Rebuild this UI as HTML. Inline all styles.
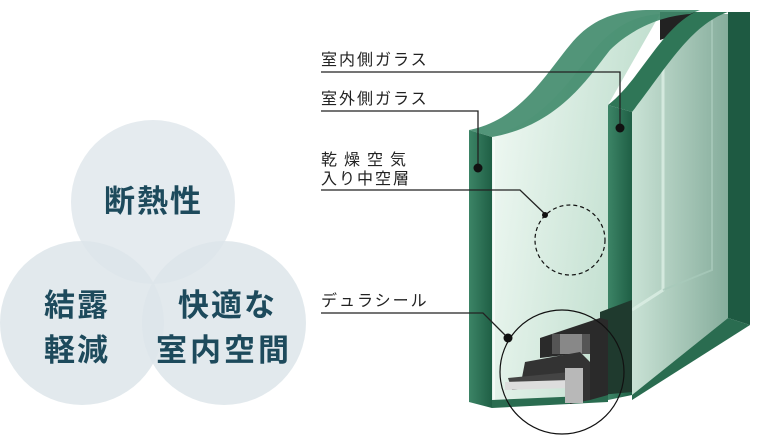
<!DOCTYPE html>
<html><head><meta charset="utf-8"><style>
html,body{margin:0;padding:0;background:#fff;width:760px;height:440px;overflow:hidden}
svg{display:block}
.lb{font-family:"Liberation Sans","Noto Sans CJK JP",sans-serif;font-size:16px;fill:#222;letter-spacing:2px}
.ct{font-family:"Liberation Sans","Noto Sans CJK JP",sans-serif;font-size:31px;font-weight:bold;fill:#1d4a5c;letter-spacing:2px}
</style></head><body>
<svg width="760" height="440" viewBox="0 0 760 440" xmlns="http://www.w3.org/2000/svg">
<defs>
<linearGradient id="face" x1="0" y1="0" x2="1" y2="0.3">
<stop offset="0" stop-color="#f2faf5"/><stop offset="1" stop-color="#bcdccb"/></linearGradient>
<linearGradient id="back" x1="0" y1="0" x2="1" y2="0">
<stop offset="0" stop-color="#c9e2d5"/><stop offset="1" stop-color="#86ad9c"/></linearGradient>
<linearGradient id="edge" x1="0" y1="0" x2="1" y2="0">
<stop offset="0" stop-color="#3c8466"/><stop offset="1" stop-color="#1f5f45"/></linearGradient>
</defs>
<g>
<circle cx="153" cy="202" r="82" fill="#e5ebef"/>
<circle cx="82" cy="323" r="82" fill="#dde5ea" fill-opacity="0.85"/>
<circle cx="224" cy="323" r="82" fill="#dde5ea" fill-opacity="0.85"/>
</g>
<text class="ct" x="104" y="212">断熱性</text>
<text class="ct" x="44" y="316">結露</text>
<text class="ct" x="44" y="361">軽減</text>
<text class="ct" x="178" y="316">快適な</text>
<text class="ct" x="156" y="361" style="letter-spacing:3px">室内空間</text>

<polygon points="728,12 750,12 750,325 728,318" fill="#1e5a42"/>
<path d="M632,112 C660,70 680,20 720,14 L728,14 L728,318 L632,395 Z" fill="url(#back)"/>
<polyline points="663,40 663,290 632,310" fill="none" stroke="#dcefe5" stroke-width="3" opacity="0.8"/>
<polyline points="712,20 712,270 663,290" fill="none" stroke="#a8c9ba" stroke-width="2" opacity="0.8"/>
<polygon points="660,12 700,12 690,30 660,40" fill="#222"/>
<path d="M608,105 C640,80 660,30 695,12 L728,12 C690,25 665,70 632,112 Z" fill="#2f7657"/>
<polygon points="608,105 632,112 632,395 608,400" fill="url(#edge)"/>
<path d="M492,135 C540,125 570,80 590,55 C610,30 630,16 660,14 L608,105 L608,400 L492,405 Z" fill="url(#face)"/>
<path d="M469,130 C520,120 545,75 570,45 C590,20 615,10 650,10 L700,10 L690,14 C660,16 630,30 610,50 C590,75 560,125 492,137 Z" fill="#3f8a6a" opacity="0.9"/>
<polygon points="469,130 492,137 492,408 469,402" fill="url(#edge)"/>
<line x1="494" y1="140" x2="494" y2="405" stroke="#fff" stroke-width="1.5" opacity="0.8"/>
<polygon points="632,395 728,318 750,325 632,400" fill="#2a6c50"/>
<polygon points="492,400 608,395 608,402 492,408" fill="#2a6c50"/>
<polygon points="600,312 632,300 632,392 600,395" fill="#1f3a2e"/>
<polygon points="540,338 600,318 608,320 608,395 590,400 590,352 540,358" fill="#2a2a2a"/>
<rect x="552" y="334" width="38" height="20" fill="#555"/>
<rect x="560" y="334" width="22" height="20" fill="#888"/>
<polygon points="525,362 580,352 590,362 590,400 570,404 570,382 520,388" fill="#333"/>
<polygon points="508,378 570,372 570,385 512,390" fill="#444"/>
<polygon points="505,382 570,380 570,388 505,390" fill="#ddd"/>
<rect x="565" y="368" width="18" height="35" fill="#b8b8b8"/>
<circle cx="562" cy="372" r="62" fill="none" stroke="#111" stroke-width="1.2"/>
<circle cx="570" cy="240" r="35" fill="none" stroke="#111" stroke-width="1.2" stroke-dasharray="4,3"/>

<g stroke="#222" stroke-width="1.3" fill="none">
<polyline points="321,72 620,72 620,128"/>
<polyline points="321,111 478,111 478,168"/>
<polyline points="321,190 520,190 545,214"/>
<polyline points="321,313 483,313 508,338"/>
</g>
<g fill="#111">
<circle cx="620" cy="128" r="4.5"/>
<circle cx="478" cy="168" r="4.5"/>
<circle cx="545" cy="215" r="3"/>
<circle cx="508" cy="338" r="4.5"/>
</g>
<text class="lb" x="321" y="65">室内側ガラス</text>
<text class="lb" x="321" y="104">室外側ガラス</text>
<text class="lb" x="321" y="165" style="letter-spacing:7px">乾燥空気</text>
<text class="lb" x="321" y="184">入り中空層</text>
<text class="lb" x="321" y="306">デュラシール</text>
</svg>
</body></html>
